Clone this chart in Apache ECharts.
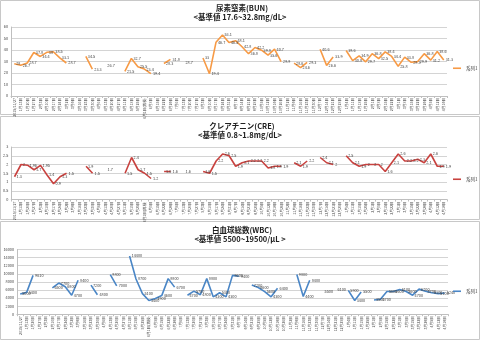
<!DOCTYPE html>
<html>
<head>
<meta charset="utf-8">
<script src="https://cdn.jsdelivr.net/npm/echarts@6/dist/echarts.min.js"></script>
<style>
  html, body { margin: 0; padding: 0; background: #fff; }
  #chart { width: 480px; height: 340px; }
</style>
</head>
<body>
<div id="chart"></div>
<script>
// Test dates (shared by all three panels)
var dates = [
  "2015/11/27", "1月13日", "1月20日", "1月27日", "2月3日", "2月10日", "2月17日", "2月24日",
  "3月2日", "3月9日", "3月16日", "3月23日", "3月30日", "4月6日", "4月13日", "4月20日",
  "4月27日", "5月11日", "5月18日", "5月25日", "6月1日(再検)", "6月8日", "6月15日", "6月22日",
  "6月29日", "7月6日", "7月13日", "7月20日", "7月27日", "8月3日", "8月10日", "8月17日",
  "8月24日", "8月31日", "9月7日", "9月14日", "9月21日", "9月28日", "10月5日", "10月12日",
  "10月19日", "10月26日", "11月2日", "11月9日", "11月16日", "11月23日", "11月30日", "12月7日",
  "12月14日", "12月21日", "12月28日", "1月4日", "1月11日", "1月18日", "1月25日", "2月1日",
  "2月8日", "2月15日", "2月22日", "3月1日", "3月8日", "3月15日", "3月22日", "3月29日",
  "4月5日", "4月12日", "4月19日"
];

// 尿素窒素 (mg/dL)
var bun = [
  28, 26.7, 28.7, 37.8, 34.4, 38, 38.5, 33.1, 28.7, null,
  null, 34.5, 23.3, null, 26.7, null, null, 21.5, 32.7, 25.5,
  23.4, 19.4, null, 28.3, 31.8, null, 28.7, null, null, 33,
  19.4, 46.7, 53.1, 46.5, 48.1, 42.8, 36.8, 42.2, 39.8, 35.6,
  40.7, 29.9, null, 28.6, 24.6, 29.3, null, 40.6, 26.6, 33.9,
  null, 39.6, 30.8, 34.9, 29.7, 36.8, 32.5, 38.4, 34.4, 25.8,
  33.8, 29.3, 29.9, 36.8, 31.2, 38.6, 31.3
];

// クレアチニン (mg/dL)
var cre = [
  1.3, 2, 1.96, 1.7, 1.95, 1.4, 0.9, 1.3, 1.5, null,
  null, 1.9, 1.5, null, 1.7, null, null, 1.5, 2.4, 1.7,
  1.5, 1.2, null, 1.6, 1.6, null, 1.6, null, null, 1.6,
  1.5, 2.2, 2.6, 2.5, 1.9, 2.1, 2.2, 2.2, 2.2, 1.8,
  1.9, 1.9, null, 2.1, 1.9, 2.2, null, 2.4, 2.1, 2,
  null, 2.5, 2.1, 1.9, 2, 2, 2, 1.6, 2.1, 2.6,
  2.2, 2.2, 2.3, 2.1, 2.6, 1.9, 1.9
];

// 白血球総数 (/μL)
var wbc = [
  5000, 5400, 9610, null, null, 6500, 7700, 6800, 4700, 8400,
  null, 7200, 4800, null, 9800, 7000, null, 14400, 8700, 5100,
  3400, 3900, 4600, 8800, 6700, null, 4700, 5700, 4800, 8800,
  4300, 5300, 4300, 9600, 9400, null, 7200, 6600, 5600, 4300,
  6400, null, null, 9800, 4400, 8400, null, 5500, null, 6100,
  null, 5900, 3400, 5500, null, 3500, 3700, 5600, 5600, 6100,
  5600, 4700, 6200, 5700, 5300, 5100, 5240
];

var panelTitles = [
  ["尿素窒素(BUN)", "<基準値 17.6~32.8mg/dL>"],
  ["クレアチニン(CRE)", "<基準値 0.8~1.8mg/dL>"],
  ["白血球総数(WBC)", "<基準値 5500~19500/μL >"]
];
var legendName = "系列1";

var FONT = '"Noto Sans CJK JP", "Noto Sans", sans-serif';
var colors = ["#F79A45", "#C8423F", "#4A86C6"];

var grids = [
  { left: 11, right: 33, top: 27, height: 69 },
  { left: 11, right: 33, top: 147, height: 52.5 },
  { left: 17, right: 32, top: 249.5, height: 68 }
];
var yRanges = [
  { max: 60, interval: 10 },
  { max: 3, interval: 0.5 },
  { max: 16000, interval: 2000 }
];
var legendTops = [66, 177, 289];
var titleTops = [8, 126, 230];
var boxes = [[0.5, 0.5, 479, 114], [0.5, 116.5, 479, 103], [0.5, 221.5, 479, 118]];
var seriesData = [bun, cre, wbc];
var seriesKeys = ["BUN", "CRE", "WBC"];

function plain(v) { return String(v); }

var xAxes = [], yAxes = [], series = [], legends = [], graphics = [];

for (var k = 0; k < 3; k++) {
  xAxes.push({
    type: "category",
    gridIndex: k,
    data: dates,
    boundaryGap: true,
    axisLine: { lineStyle: { color: "#bfbfbf", width: 1 } },
    axisTick: { show: true, length: 2, interval: 0, lineStyle: { color: "#bfbfbf" } },
    axisLabel: {
      interval: 0, rotate: 90, fontSize: 3.6, margin: 2,
      color: "#404040", fontFamily: FONT
    }
  });
  yAxes.push({
    type: "value",
    gridIndex: k,
    min: 0,
    max: yRanges[k].max,
    interval: yRanges[k].interval,
    axisLine: { show: true, lineStyle: { color: "#bfbfbf", width: 1 } },
    axisTick: { show: false },
    splitLine: { lineStyle: { color: "#d4d4d4", width: 1 } },
    axisLabel: { fontSize: 3.8, margin: 3, color: "#404040", fontFamily: FONT, formatter: plain }
  });
  series.push({
    name: seriesKeys[k],
    type: "line",
    xAxisIndex: k,
    yAxisIndex: k,
    data: seriesData[k],
    connectNulls: false,
    showSymbol: true,
    symbol: "circle",
    symbolSize: 0.01,
    color: colors[k],
    lineStyle: { color: colors[k], width: 1.6 },
    label: {
      show: true, position: "right", distance: 2,
      fontSize: 3.8, color: "#404040", fontFamily: FONT,
      formatter: function (p) { return String(p.value); }
    },
    emphasis: { disabled: true },
    animation: false
  });
  legends.push({
    data: [seriesKeys[k]],
    left: 453,
    top: legendTops[k],
    icon: "rect",
    itemWidth: 8,
    itemHeight: 1.6,
    itemGap: 2,
    padding: 0,
    selectedMode: false,
    formatter: function () { return legendName; },
    textStyle: { fontSize: 4.5, color: "#404040", fontFamily: FONT }
  });
  graphics.push({
    type: "rect",
    shape: { x: boxes[k][0], y: boxes[k][1], width: boxes[k][2], height: boxes[k][3] },
    style: { fill: "none", stroke: "#c8c8c8", lineWidth: 1 },
    silent: true
  });
  graphics.push({
    type: "text",
    x: 242, y: titleTops[k],
    style: {
      text: panelTitles[k][0], fill: "#202020", font: "bold 7.5px " + FONT,
      textAlign: "center", textVerticalAlign: "middle"
    },
    silent: true
  });
  graphics.push({
    type: "text",
    x: 240, y: titleTops[k] + 9.5,
    style: {
      text: panelTitles[k][1], fill: "#202020", font: "bold 7.5px " + FONT,
      textAlign: "center", textVerticalAlign: "middle"
    },
    silent: true
  });
}

var chart = echarts.init(document.getElementById("chart"), null, { renderer: "canvas" });
chart.setOption({
  animation: false,
  backgroundColor: "#ffffff",
  grid: grids,
  xAxis: xAxes,
  yAxis: yAxes,
  series: series,
  legend: legends,
  graphic: graphics
});
</script>
</body>
</html>
